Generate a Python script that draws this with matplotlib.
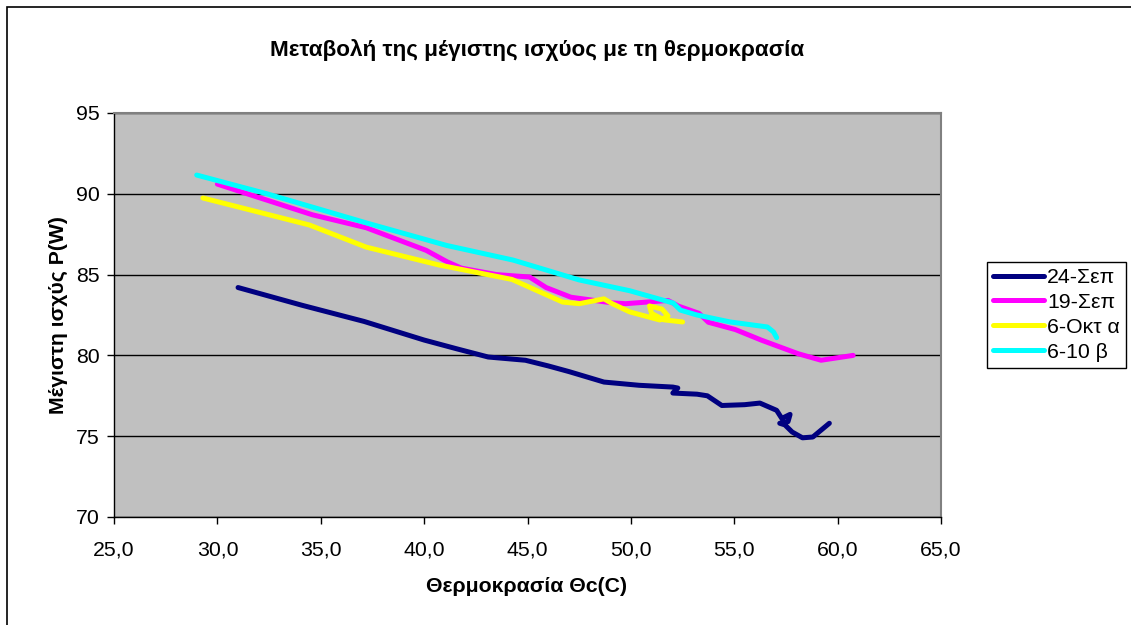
import matplotlib
matplotlib.use("Agg")
import matplotlib.pyplot as plt
from matplotlib.patches import Rectangle
from matplotlib.ticker import FuncFormatter

plt.rcParams['font.family'] = ['Liberation Sans', 'DejaVu Sans']

title = "Μεταβολή της μέγιστης ισχύος με τη θερμοκρασία"
xlabel = "Θερμοκρασία Θc(C)"
ylabel = "Μέγιστη ισχύς P(W)"
series_names = ["24-Σεπ", "19-Σεπ", "6-Οκτ α", "6-10 β"]
series_colors = ["#000080", "#FF00FF", "#FFFF00", "#00FFFF"]

x_sep24 = [31.0, 34.1, 37.1, 40.0, 41.6, 43.1, 44.9, 46.0, 47.0, 48.7, 50.4, 52.03, 52.27, 52.03,
           53.2, 53.7, 54.4, 55.5, 56.24, 57.05, 57.3, 57.7, 57.6, 57.2, 57.45, 57.8, 58.3, 58.8, 59.6]
y_sep24 = [84.2, 83.1, 82.1, 80.95, 80.4, 79.9, 79.7, 79.35, 79.0, 78.35, 78.15, 78.04, 77.98, 77.67,
           77.6, 77.5, 76.9, 76.95, 77.05, 76.6, 76.1, 76.35, 75.9, 75.8, 75.7, 75.26, 74.9, 74.95, 75.8]

x_sep19 = [30.0, 31.2, 34.6, 37.2, 40.1, 41.1, 41.8, 43.5, 45.1, 45.9, 47.1, 49.1, 49.75, 51.8,
           52.3, 53.3, 53.75, 55.05, 56.3, 58.1, 59.2, 60.75]
y_sep19 = [90.6, 90.1, 88.7, 87.9, 86.5, 85.8, 85.4, 85.0, 84.85, 84.2, 83.6, 83.25, 83.2, 83.4,
           83.05, 82.6, 82.05, 81.6, 80.95, 80.1, 79.7, 80.0]

x_okt6a = [29.3, 34.45, 37.2, 40.7, 44.25, 46.7, 47.5, 48.7, 49.1, 49.95, 51.4, 51.8,
           51.5, 50.9, 51.0, 51.6, 52.5]
y_okt6a = [89.74, 88.07, 86.7, 85.6, 84.7, 83.3, 83.2, 83.5, 83.2, 82.69, 82.19, 82.44,
           82.87, 83.06, 82.6, 82.2, 82.07]

x_oct6b = [29.0, 32.4, 37.2, 41.1, 44.3, 47.5, 49.95, 52.05, 52.4, 53.2, 54.8, 56.6,
           56.9, 57.05]
y_oct6b = [91.16, 90.0, 88.2, 86.8, 85.9, 84.67, 84.0, 83.24, 82.8, 82.5, 82.07, 81.76,
           81.45, 81.1]

xs = [x_sep24, x_sep19, x_okt6a, x_oct6b]
ys = [y_sep24, y_sep19, y_okt6a, y_oct6b]

x_ticks = [25, 30, 35, 40, 45, 50, 55, 60, 65]
y_ticks = [70, 75, 80, 85, 90, 95]

FS = 15.3

fig = plt.figure(figsize=(11.31, 6.25), dpi=100)
fig.patch.set_facecolor("white")
ax = fig.add_axes([114/1131, 1-517/625, (941-114)/1131, (517-113)/625])
ax.set_facecolor("#C0C0C0")

for x, y, c, n in zip(xs, ys, series_colors, series_names):
    ax.plot(x, y, color=c, lw=3.6, label=n, solid_capstyle='round', solid_joinstyle='round')

ax.set_xlim(25, 65)
ax.set_ylim(70, 95)
ax.set_xticks(x_ticks)
ax.set_yticks(y_ticks)
ax.xaxis.set_major_formatter(FuncFormatter(lambda v, p: f"{v:.1f}".replace(".", ",")))
ax.yaxis.grid(True, color="black", lw=1)
ax.set_axisbelow(True)
ax.tick_params(axis='both', direction='out', length=5, width=1, labelsize=FS, color='black')
ax.tick_params(axis='x', pad=12)
ax.tick_params(axis='y', pad=5)
for s in ['left', 'bottom']:
    ax.spines[s].set_color('black')
    ax.spines[s].set_linewidth(1)
for s in ['top', 'right']:
    ax.spines[s].set_color('#808080')
    ax.spines[s].set_linewidth(1.5)

fig.text(537/1131, 1-50/625, title, ha='center', va='center', fontsize=16.2, fontweight='bold')
fig.text(527/1131, 1-587/625, xlabel, ha='center', va='center', fontsize=FS, fontweight='bold')
fig.text(58/1131, 1-315/625, ylabel, ha='center', va='center', rotation=90, fontsize=FS, fontweight='bold')

leg = ax.legend(loc='upper left', bbox_to_anchor=(987/1131, 1-262/625),
                bbox_transform=fig.transFigure, borderaxespad=0, fontsize=FS,
                frameon=True, fancybox=False, edgecolor='black', framealpha=1,
                handlelength=2.4, handletextpad=0.15, labelspacing=0.28, borderpad=0.28)
leg.get_frame().set_linewidth(1)

fig.patches.append(Rectangle((7/1131, -0.1), 1.2, 1.1 - 7/625, transform=fig.transFigure,
                             fill=False, edgecolor='black', lw=1.2))

fig.savefig("out.png", dpi=100)
